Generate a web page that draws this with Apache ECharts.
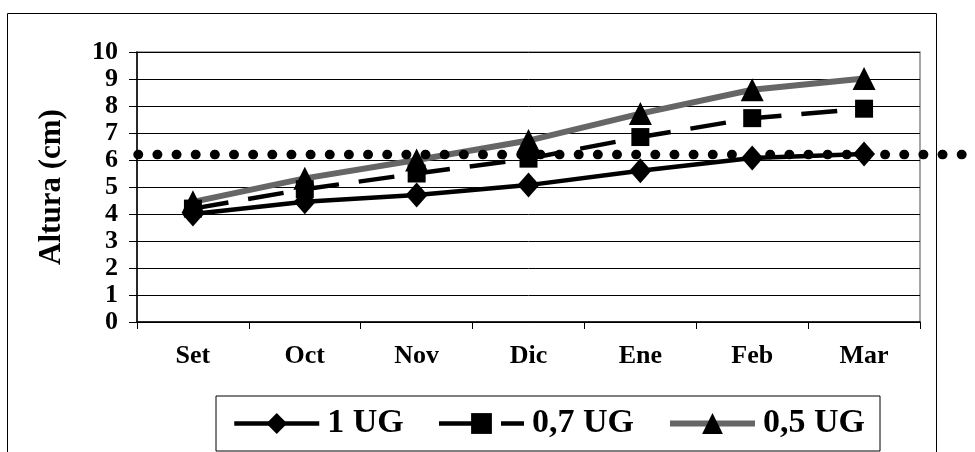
<!DOCTYPE html>
<html>
<head>
<meta charset="utf-8">
<script src="https://cdn.jsdelivr.net/npm/echarts@6/dist/echarts.min.js"></script>
<style>
html,body{margin:0;padding:0;background:#fff;}
#chart{width:975px;height:452px;}
</style>
</head>
<body>
<div id="chart"></div>
<script>
const categories = ['Set', 'Oct', 'Nov', 'Dic', 'Ene', 'Feb', 'Mar'];
const ug1 = [4.0, 4.45, 4.7, 5.07, 5.6, 6.07, 6.22];
const ug07 = [4.2, 4.92, 5.5, 6.05, 6.85, 7.55, 7.9];
const ug05 = [4.45, 5.32, 6.0, 6.72, 7.72, 8.6, 9.02];
const seriesNames = ['1 UG', '0,7 UG', '0,5 UG'];
const threshold = 6.2;
const yTicks = [0, 10, 1]; // min, max, interval

const FONT = '"Liberation Serif", "Times New Roman", serif';
const GRAY = '#666666';

const chart = echarts.init(document.getElementById('chart'), null, {renderer: 'canvas'});
chart.setOption({
  animation: false,
  backgroundColor: '#fff',
  graphic: [{
    type: 'rect', silent: true, z: 0,
    shape: {x: 7.5, y: 13.5, width: 929, height: 460},
    style: {fill: 'none', stroke: '#000', lineWidth: 1}
  }],
  grid: [
    {left: 137, right: 55, top: 52, bottom: 130, show: true, borderColor: '#888', borderWidth: 1.5, backgroundColor: 'transparent'},
    {left: 138, right: 10, top: 52, bottom: 130, show: false}
  ],
  legend: {
    data: [
      {name: seriesNames[0], lineStyle: {width: 4.5, color: '#000'}},
      {name: seriesNames[1], lineStyle: {width: 4.5, color: '#000', type: [50, 12]}},
      {name: seriesNames[2], lineStyle: {width: 6, color: GRAY}}
    ],
    left: 216, top: 396,
    orient: 'horizontal',
    padding: [9, 15, 9, 16],
    borderColor: '#000', borderWidth: 1,
    itemWidth: 85, itemHeight: 26, itemGap: 33,
    textStyle: {fontFamily: FONT, fontWeight: 'bold', fontSize: 34, color: '#000', padding: [0, 0, 0, 3], lineHeight: 37}
  },
  xAxis: [
    {
      type: 'category', data: categories, boundaryGap: true, gridIndex: 0,
      axisLine: {lineStyle: {color: '#000', width: 1.5}},
      axisTick: {show: true, inside: false, length: 7, lineStyle: {color: '#000', width: 1}},
      axisLabel: {fontFamily: FONT, fontWeight: 'bold', fontSize: 26, color: '#000', margin: 21},
      splitLine: {show: false}
    },
    {type: 'value', gridIndex: 1, min: 0, max: 1, show: false}
  ],
  yAxis: [
    {
      type: 'value', gridIndex: 0, min: yTicks[0], max: yTicks[1], interval: yTicks[2],
      name: 'Altura (cm)', nameLocation: 'middle', nameGap: 70, nameRotate: 90,
      nameTextStyle: {fontFamily: FONT, fontWeight: 'bold', fontSize: 31, color: '#000'},
      axisLine: {show: true, lineStyle: {color: '#000', width: 1.5}},
      axisTick: {show: true, inside: false, length: 8, lineStyle: {color: '#000', width: 1}},
      axisLabel: {fontFamily: FONT, fontWeight: 'bold', fontSize: 26, color: '#000', margin: 19},
      splitLine: {show: true, lineStyle: {color: '#000', width: 1}}
    },
    {type: 'value', gridIndex: 1, min: yTicks[0], max: yTicks[1], show: false}
  ],
  series: [
    {
      name: seriesNames[0], type: 'line', data: ug1, xAxisIndex: 0, yAxisIndex: 0,
      symbol: 'diamond', symbolSize: [22, 25], showAllSymbol: true,
      lineStyle: {color: '#000', width: 4.5},
      itemStyle: {color: '#000'}, z: 3
    },
    {
      name: seriesNames[1], type: 'line', data: ug07, xAxisIndex: 0, yAxisIndex: 0,
      symbol: 'rect', symbolSize: 18, showAllSymbol: true,
      lineStyle: {color: '#000', width: 4.5, type: [36, 20]},
      itemStyle: {color: '#000'}, z: 3
    },
    {
      name: seriesNames[2], type: 'line', data: ug05, xAxisIndex: 0, yAxisIndex: 0,
      symbol: 'triangle', symbolSize: 23, showAllSymbol: true,
      lineStyle: {color: GRAY, width: 6},
      itemStyle: {color: '#000'}, z: 3
    },
    {
      name: 'ref', type: 'line', xAxisIndex: 1, yAxisIndex: 1,
      data: [[0, threshold], [1, threshold]],
      symbol: 'none', clip: false, silent: true,
      lineStyle: {color: '#000', width: 9.5, type: [0.5, 18.65], cap: 'round'},
      z: 4
    }
  ]
});
</script>
</body>
</html>
